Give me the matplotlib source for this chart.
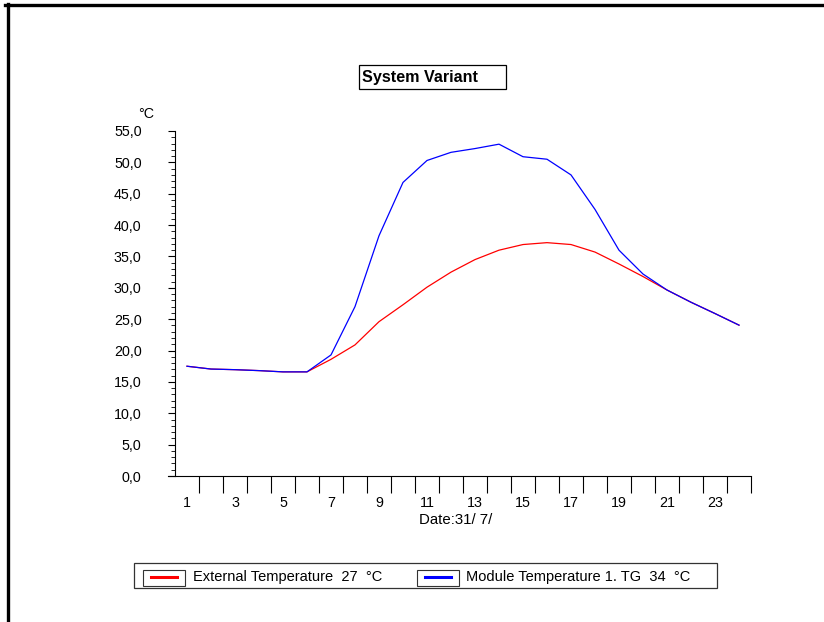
"""Recreation of the 'System Variant' daily temperature chart."""
import matplotlib
matplotlib.use("Agg")
import matplotlib.pyplot as plt
from matplotlib.lines import Line2D
from matplotlib.patches import Rectangle
from matplotlib.ticker import FixedLocator, FuncFormatter

plt.rcParams["font.family"] = ["Liberation Sans", "DejaVu Sans"]

# hourly readings, 31 July
HOURS = list(range(1, 25))
EXTERNAL = [17.5, 17.05, 16.95, 16.8, 16.6, 16.6, 18.6, 20.9, 24.6, 27.3,
            30.1, 32.5, 34.5, 36.0, 36.9, 37.2, 36.9, 35.7, 33.8, 31.8,
            29.65, 27.7, 25.9, 24.05]
MODULE = [17.5, 17.05, 16.95, 16.8, 16.6, 16.6, 19.3, 27.0, 38.3, 46.8,
          50.3, 51.6, 52.2, 52.9, 50.9, 50.5, 48.0, 42.5, 36.0, 32.2,
          29.65, 27.7, 25.9, 24.05]
LABELS = ["External Temperature  27  °C", "Module Temperature 1. TG  34  °C"]
COLORS = ["#ff0000", "#0000ff"]
X_LABELS = list(range(1, 24, 2))
Y_TICKS = list(range(0, 56, 5))

W, H = 824, 622


def fx(px):
    return px / W


def fy(py):
    return 1 - py / H


fig = plt.figure(figsize=(W / 100, H / 100), dpi=100)
fig.patch.set_facecolor("white")

# plot area: x axis line starts a bit left of the y axis
ax = fig.add_axes([fx(168), fy(476), fx(751) - fx(168), fy(131) - fy(476)])
x_left = 0.5 - 7 / ((751 - 174) / 24.0)
ax.set_xlim(x_left, 24.5)
ax.set_ylim(0, 55)

for series, col in zip([EXTERNAL, MODULE], COLORS):
    ax.plot(HOURS, series, color=col, linewidth=0.9)

for side in ("top", "right"):
    ax.spines[side].set_visible(False)
ax.spines["left"].set_position(("data", 0.5))
ax.spines["left"].set_linewidth(0.8)
ax.spines["bottom"].set_linewidth(0.8)

ax.yaxis.set_major_locator(FixedLocator(Y_TICKS))
ax.yaxis.set_minor_locator(FixedLocator(list(range(0, 56))))
ax.yaxis.set_major_formatter(FuncFormatter(lambda v, p: f"{v:.1f}".replace(".", ",")))
ax.tick_params(axis="y", which="major", length=5, width=0.8, pad=19,
               labelsize=10.3, direction="out")
ax.tick_params(axis="y", which="minor", length=3, width=0.6, direction="out")

ax.xaxis.set_major_locator(FixedLocator(X_LABELS))
ax.xaxis.set_minor_locator(FixedLocator([h + 0.5 for h in HOURS]))
ax.tick_params(axis="x", which="major", length=0, pad=14.5, labelsize=10.3)
ax.tick_params(axis="x", which="minor", length=12, width=0.8, direction="out")

ax.set_xlabel("Date:31/ 7/", fontsize=10.8)
ax.xaxis.set_label_coords(0.494, -0.108)
ax.text(-0.038, 1.049, "°C", transform=ax.transAxes, fontsize=10.3,
        ha="center", va="center")

# title box
fig.add_artist(Rectangle((fx(360), fy(90)), fx(507) - fx(360), fy(66) - fy(90),
                         transform=fig.transFigure, facecolor="#888888",
                         edgecolor="none"))
fig.add_artist(Rectangle((fx(359), fy(89)), fx(506) - fx(359), fy(65) - fy(89),
                         transform=fig.transFigure, facecolor="white",
                         edgecolor="black", linewidth=0.9))
fig.text(fx(362), fy(77.5), "System Variant", fontsize=11.6, fontweight="bold",
         ha="left", va="center")

# legend box
fig.add_artist(Rectangle((fx(134), fy(588)), fx(717) - fx(134), fy(563) - fy(588),
                         transform=fig.transFigure, facecolor="white",
                         edgecolor="#333333", linewidth=0.9))
for lab, col, hx, tx in zip(LABELS, COLORS, [143, 417], [193, 466]):
    fig.add_artist(Rectangle((fx(hx), fy(586)), fx(hx + 42) - fx(hx), fy(570) - fy(586),
                             transform=fig.transFigure, facecolor="white",
                             edgecolor="#333333", linewidth=0.8))
    fig.add_artist(Line2D([fx(hx + 8), fx(hx + 34)], [fy(577), fy(577)],
                          transform=fig.transFigure, color=col, linewidth=2.2))
    fig.text(fx(tx), fy(577), lab, fontsize=10.5, ha="left", va="center")

# outer frame: top and left edges only
fig.add_artist(Line2D([fx(5), 1.0], [fy(5), fy(5)], transform=fig.transFigure,
                      color="black", linewidth=2.4))
fig.add_artist(Line2D([fx(8), fx(8)], [fy(4), 0.0], transform=fig.transFigure,
                      color="black", linewidth=2.4))

fig.savefig("out.png", dpi=100)
